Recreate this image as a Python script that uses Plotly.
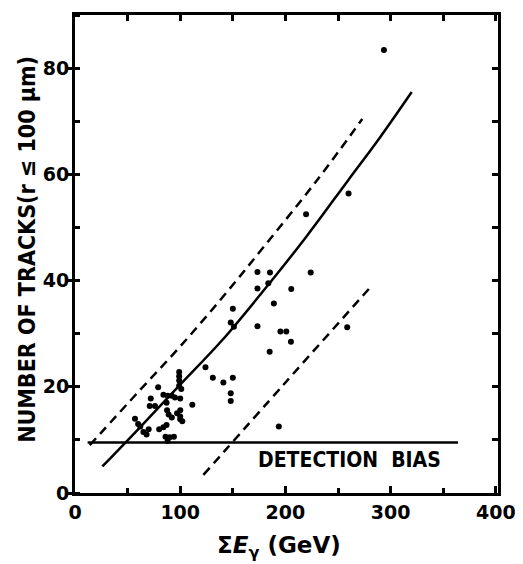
import plotly.graph_objects as go

# --- data ---
pts_x = [57, 60, 62, 65, 68, 70, 72, 71, 76, 79, 80, 84, 87, 84, 88, 92, 95, 87, 87.5, 89, 92, 97,
         100, 102, 99, 99, 99, 99, 101, 100, 100, 100, 86, 90, 94, 88, 111.5, 124, 131, 141, 150,
         148, 148, 193.7, 148, 151, 150, 173.4, 185.3, 224, 173.4, 183.7, 205.5, 189, 173.4,
         195.2, 200.8, 205.2, 185, 219.6, 260, 258.7, 293.6]
pts_y = [14, 13, 12.5, 11.5, 11, 12, 17.8, 16.4, 16.4, 19.9, 12, 12.4, 12.8, 18.5, 18.3, 18.3, 18, 17,
         15.6, 14.8, 14.2, 15, 13.9, 13.5, 22.8, 22, 21.2, 20.2, 19.6, 17.8, 15.6, 14.4, 10.6, 10.5,
         10.6, 9.8, 16.6, 23.7, 21.7, 20.8, 21.7, 18.8, 17.3, 12.5, 32.1, 31.3, 34.7, 41.6, 41.5,
         41.5, 38.5, 39.5, 38.4, 35.7, 31.4, 30.4, 30.4, 28.5, 26.6, 52.5, 56.4, 31.2, 83.4]

fit_x = [26, 60, 100, 140, 180, 220, 260, 290, 320]
fit_y = [5, 12, 20.4, 28.8, 38.3, 48.3, 59, 67, 75.5]

upper_x = [14, 60, 100, 140, 180, 230, 273]
upper_y = [9, 19, 27.6, 36.8, 46.5, 58.9, 70.4]

lower_x = [122, 200, 281]
lower_y = [3.4, 20.8, 38.8]

bias_x = [12, 364]
bias_y = [9.5, 9.5]

x_ticks = [0, 100, 200, 300, 400]
y_ticks = [0, 20, 40, 60, 80]

cond = "DejaVu Sans Condensed, DejaVu Sans, sans-serif"
wide = "DejaVu Sans, sans-serif"

fig = go.Figure()
fig.add_trace(go.Scatter(x=fit_x, y=fit_y, mode="lines", line=dict(color="black", width=2.5, shape="spline"),
                         hoverinfo="skip"))
fig.add_trace(go.Scatter(x=upper_x, y=upper_y, mode="lines",
                         line=dict(color="black", width=2.5, dash="9px,6px", shape="spline"), hoverinfo="skip"))
fig.add_trace(go.Scatter(x=lower_x, y=lower_y, mode="lines",
                         line=dict(color="black", width=2.5, dash="9px,6px", shape="spline"), hoverinfo="skip"))
fig.add_trace(go.Scatter(x=bias_x, y=bias_y, mode="lines", line=dict(color="black", width=2.5),
                         hoverinfo="skip"))
fig.add_trace(go.Scatter(x=pts_x, y=pts_y, mode="markers", marker=dict(color="black", size=6)))
# helper trace for the right/top tick axes
fig.add_trace(go.Scatter(x=[0], y=[0], xaxis="x2", yaxis="y2", mode="markers",
                         marker=dict(opacity=0), hoverinfo="skip"))

fig.add_annotation(x=261, y=6.2, text="DETECTION  BIAS", showarrow=False,
                   font=dict(family=cond, size=21, color="black", weight="bold"))
# axis titles
fig.add_annotation(xref="paper", yref="paper", x=-0.112, y=0.51, xanchor="center", yanchor="middle",
                   text="NUMBER OF TRACKS(r ≤ 100 μm)", textangle=-90, showarrow=False,
                   font=dict(family=cond, size=23, color="black", weight="bold"))
fig.add_annotation(xref="paper", yref="paper", x=0.4825, y=-0.113, xanchor="center", yanchor="middle",
                   text="Σ<i>E</i><sub>γ</sub> (GeV)", showarrow=False,
                   font=dict(family=wide, size=23, color="black", weight="bold"))

# page body has an 8px margin, so the figure is sized to fit the 523x564 window
fig.update_layout(
    width=515, height=556,
    margin=dict(l=67, r=19, t=7, b=71),
    paper_bgcolor="white", plot_bgcolor="white",
    showlegend=False,
    font=dict(family=wide, color="black"),
    xaxis=dict(range=[0, 402], tickvals=x_ticks, ticktext=[str(v) for v in x_ticks],
               ticks="inside", ticklen=7, tickwidth=2.5, tickcolor="black",
               minor=dict(dtick=50, tick0=0, ticks="inside", ticklen=5, tickwidth=2.5, tickcolor="black"),
               showline=True, linecolor="black", linewidth=3, showgrid=False, zeroline=False,
               tickfont=dict(size=19, weight="bold", family=wide)),
    yaxis=dict(range=[0, 90], tickvals=y_ticks, ticktext=[str(v) for v in y_ticks],
               ticks="outside", ticklen=4, tickwidth=2.5, tickcolor="black",
               minor=dict(dtick=10, tick0=0, ticks="inside", ticklen=5, tickwidth=2.5, tickcolor="black"),
               showline=True, linecolor="black", linewidth=3, showgrid=False, zeroline=False,
               tickfont=dict(size=19, weight="bold", family=wide), ticklabelstandoff=-5),
    xaxis2=dict(range=[0, 402], overlaying="x", side="top", anchor="y", dtick=50, tick0=0,
                ticks="inside", ticklen=6, tickwidth=2.5, tickcolor="black", showticklabels=False,
                showline=True, linecolor="black", linewidth=3, showgrid=False, zeroline=False),
    yaxis2=dict(range=[0, 90], overlaying="y", side="right", anchor="x", dtick=10, tick0=0,
                ticks="inside", ticklen=6, tickwidth=2.5, tickcolor="black", showticklabels=False,
                showline=True, linecolor="black", linewidth=3, showgrid=False, zeroline=False),
)

fig.write_html("out.html")
